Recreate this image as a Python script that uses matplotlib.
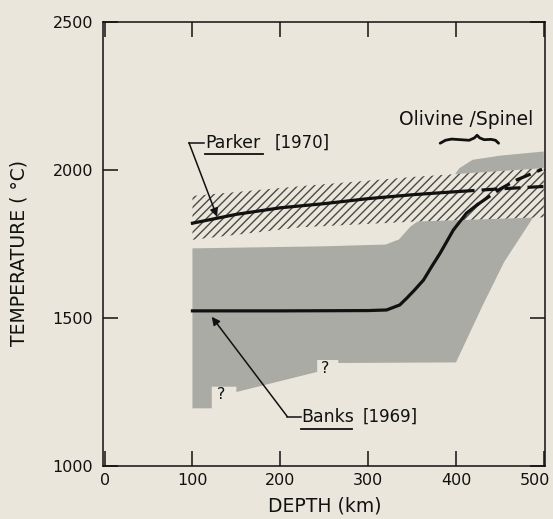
import matplotlib.pyplot as plt
from matplotlib.transforms import ScaledTranslation

# depth (km) / temperature (C)
parker_depth = [100, 150, 200, 250, 300, 350, 403]
parker_temp = [1820, 1850, 1872, 1886, 1903, 1916, 1927]
parker_dash_depth = [403, 450, 500]
parker_dash_temp = [1927, 1936, 1944]

banks_depth = [100, 200, 300, 321, 336, 344, 353, 363, 372, 382, 397, 412, 424]
banks_temp = [1524, 1524, 1525, 1527, 1544, 1567, 1595, 1628, 1672, 1719, 1797, 1854, 1882]
banks_dash_depth = [424, 450, 469, 498]
banks_dash_temp = [1882, 1935, 1966, 2002]

# hatched band (Parker uncertainty)
band_depth = [100, 223, 350, 500]
band_top = [1912, 1945, 1976, 2006]
band_bottom = [1764, 1806, 1825, 1840]

# stippled region outline (Banks uncertainty)
gray_depth = [100, 250, 320, 335, 348, 362, 400, 404, 419, 450, 500,
              500, 488, 455, 430, 400, 266, 266, 242, 242, 150, 150, 122, 122, 100]
gray_temp = [1735, 1742, 1748, 1765, 1808, 1838, 1990, 2006, 2034, 2048, 2062,
             1880, 1840, 1690, 1540, 1350, 1348, 1358, 1358, 1318, 1250, 1268, 1268, 1195, 1195]

q_depth = [133, 251]
q_temp = [1240, 1330]

brace_depth = [382, 388, 395, 405, 415, 421, 424, 427, 432, 440, 445, 448.5]
brace_temp = [2090, 2100, 2104, 2102, 2100, 2108, 2117, 2108, 2102, 2103, 2100, 2090]

paper = '#eae6db'
ink = '#111111'
plt.rcParams['hatch.linewidth'] = 1.0

fig = plt.figure(figsize=(5.53, 5.19), dpi=100, facecolor=paper)
ax = fig.add_axes([0.186, 0.102, 0.799, 0.856], facecolor=paper)

ax.fill(gray_depth, gray_temp, color='#a9aba4', lw=0, zorder=1)
ax.fill_between(band_depth, band_bottom, band_top, facecolor=paper,
                edgecolor='#4a4a46', hatch='////', lw=0, zorder=2)

ax.plot(parker_depth, parker_temp, color=ink, lw=2.3, zorder=4)
ax.plot(parker_dash_depth, parker_dash_temp, color=ink, lw=2.3, ls=(0, (5, 2.2)), zorder=4)
ax.plot(banks_depth, banks_temp, color=ink, lw=2.3, zorder=4)
ax.plot(banks_dash_depth, banks_dash_temp, color=ink, lw=2.3, ls=(0, (5, 2.2)), zorder=4)

# labels with leaders
arrow = dict(arrowstyle='-|>', color=ink, lw=1.1, shrinkA=0, shrinkB=0, mutation_scale=12)
ax.annotate('', xy=(128, 1842), xytext=(96, 2092), arrowprops=arrow)
ax.plot([96, 113], [2092, 2092], color=ink, lw=1.1)
ax.text(114, 2092, 'Parker', fontsize=12.5, va='center', color=ink)
ax.plot([114, 180], [2054, 2054], color=ink, lw=1.3)
ax.text(194, 2092, '[1970]', fontsize=12, va='center', color=ink)

ax.annotate('', xy=(122, 1504), xytext=(208, 1167), arrowprops=arrow)
ax.plot([208, 223], [1167, 1167], color=ink, lw=1.1)
ax.text(224, 1167, 'Banks', fontsize=12.5, va='center', color=ink)
ax.plot([224, 282], [1126, 1126], color=ink, lw=1.3)
ax.text(294, 1167, '[1969]', fontsize=12, va='center', color=ink)

ax.text(412, 2169, 'Olivine /Spinel', fontsize=13.5, ha='center', va='center', color=ink)
ax.plot(brace_depth, brace_temp, color=ink, lw=2.0, solid_capstyle='round')

for d, t in zip(q_depth, q_temp):
    ax.text(d, t, '?', fontsize=11.5, ha='center', va='center', color=ink, zorder=5)

ax.set_xlim(-2, 501)
ax.set_ylim(1000, 2500)
ax.set_xticks([0, 100, 200, 300, 400, 500])
ax.set_yticks([1000, 1500, 2000, 2500])
ax.tick_params(direction='in', length=11, width=1.1, top=True, right=True,
               labelsize=11.5, colors=ink)
ax.tick_params(axis='y', pad=7)
ax.tick_params(axis='x', pad=5)
for s in ax.spines.values():
    s.set_linewidth(1.1)
    s.set_color(ink)

# last depth label sits just inside the right edge in the original
last = ax.get_xticklabels()[-1]
last.set_transform(last.get_transform() + ScaledTranslation(-9 / 100, 0, fig.dpi_scale_trans))

ax.set_xlabel('DEPTH (km)', fontsize=13.5, color=ink)
ax.set_ylabel('TEMPERATURE ( °C)', fontsize=13.5, color=ink)
ax.xaxis.set_label_coords(0.502, -0.068)
ax.yaxis.set_label_coords(-0.168, 0.48)

fig.savefig('out.png', dpi=100, facecolor=paper)
